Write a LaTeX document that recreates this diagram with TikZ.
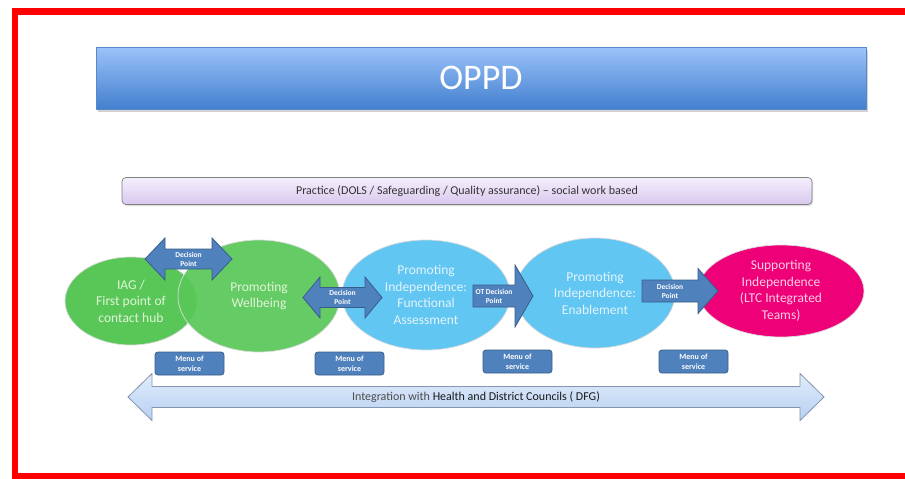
\documentclass[tikz,border=0pt]{standalone}
\usepackage{fontspec}
\setmainfont{Carlito}
\usetikzlibrary{shapes.geometric,shadows}
\definecolor{framered}{RGB}{255,0,0}
\definecolor{oppdtop}{RGB}{156,194,250}
\definecolor{oppdbot}{RGB}{66,128,206}
\definecolor{oppdline}{RGB}{90,136,200}
\definecolor{practop}{RGB}{245,239,252}
\definecolor{pracbot}{RGB}{216,200,238}
\definecolor{grn}{RGB}{88,199,88}
\definecolor{grntxt}{RGB}{224,245,216}
\definecolor{sky}{RGB}{98,198,242}
\definecolor{skytxt}{RGB}{226,244,252}
\definecolor{pnk}{RGB}{238,0,120}
\definecolor{pnktxt}{RGB}{255,206,228}
\definecolor{decfill}{RGB}{79,129,189}
\definecolor{decline}{RGB}{56,93,138}
\definecolor{inttop}{RGB}{224,236,251}
\definecolor{intbot}{RGB}{184,208,242}
\definecolor{intline}{RGB}{130,150,175}
\newcommand\twoarrow[7]{% style, L, R, cy, headhalf, shafthalf, headlen
  \draw[#1] (#2,#4) -- ({#2+#7},{#4-#5}) -- ({#2+#7},{#4-#6}) -- ({#3-#7},{#4-#6})
    -- ({#3-#7},{#4-#5}) -- (#3,#4) -- ({#3-#7},{#4+#5}) -- ({#3-#7},{#4+#6})
    -- ({#2+#7},{#4+#6}) -- ({#2+#7},{#4+#5}) -- cycle;}
\newcommand\onearrow[7]{% style, L, R, cy, headhalf, shafthalf, headlen
  \draw[#1] (#2,{#4-#6}) -- ({#3-#7},{#4-#6}) -- ({#3-#7},{#4-#5}) -- (#3,#4)
    -- ({#3-#7},{#4+#5}) -- ({#3-#7},{#4+#6}) -- (#2,{#4+#6}) -- cycle;}
\begin{document}
\begin{tikzpicture}[x=1pt,y=-1pt,
  bubble/.style={ellipse, inner sep=0pt, align=center, draw=white!72!gray, line width=0.7pt,
    font=\fontsize{13.5}{16.5}\selectfont},
  greenbub/.style={bubble, fill=grn, text=grntxt},
  skybub/.style={bubble, fill=sky, text=skytxt},
  pinkbub/.style={bubble, fill=pnk, text=pnktxt},
  decarrow/.style={fill=decfill, draw=decline, line width=0.8pt},
  intarrow/.style={top color=inttop, bottom color=intbot, draw=intline, line width=0.8pt},
  dectext/.style={font=\fontsize{7.5}{9}\selectfont\bfseries, text=white, align=center, inner sep=0pt},
  menubox/.style={rounded corners=3pt, fill=decfill, draw=decline, line width=0.8pt,
    minimum width=69pt, minimum height=23pt, inner sep=0pt, align=center, text=white,
    font=\fontsize{8}{10}\selectfont\bfseries},
  oppdbox/.style={top color=oppdtop, bottom color=oppdbot, draw=oppdline, line width=0.8pt,
    minimum width=770pt, minimum height=62pt, inner sep=0pt, text=white,
    font=\fontsize{36}{38}\selectfont,
    drop shadow={opacity=0.35, shadow xshift=1.5pt, shadow yshift=-2.5pt}},
  pracbox/.style={top color=practop, bottom color=pracbot, draw=gray, line width=0.7pt,
    rounded corners=4pt, minimum width=690pt, minimum height=27pt, inner sep=0pt,
    text=black!80, font=\fontsize{12}{14}\selectfont,
    drop shadow={opacity=0.25, shadow xshift=1pt, shadow yshift=-1.5pt}},
  inttext/.style={inner sep=0pt, text=black!70, font=\fontsize{12}{14}\selectfont}
]
\useasboundingbox (0,0) rectangle (905,479);
\fill[white] (0,0) rectangle (905,479);
% red frame
\draw[framered, line width=6.5pt] (905,11.5) -- (15,11.5) -- (15,476) -- (905,476);

% title and practice bars
\node[oppdbox] (oppd) at (481,78) {OPPD};
\node[pracbox] (prac) at (467,191) {Practice (DOLS / Safeguarding / Quality assurance) -- social work based};

% ellipses
\node[greenbub, minimum width=132pt, minimum height=88pt] (iag) at (131,301)
  {IAG /\\First point of\\contact hub};
\node[greenbub, fill opacity=0.92, text opacity=1, minimum width=162pt, minimum height=112pt] (well) at (259,296)
  {Promoting\\Wellbeing};
\node[skybub, minimum width=168pt, minimum height=110pt] (func) at (426,295)
  {Promoting\\Independence:\\Functional\\Assessment};
\node[skybub, minimum width=160pt, minimum height=110pt] (enab) at (595,293)
  {Promoting\\Independence:\\Enablement};
\node[pinkbub, minimum width=166pt, minimum height=92pt] (supp) at (781,291)
  {Supporting\\Independence\\(LTC Integrated\\Teams)};

% decision arrows
\twoarrow{decarrow}{145}{232}{259}{21}{10}{20}
\node[dectext] (dp1) at (188.5,259) {Decision\\Point};
\twoarrow{decarrow}{303}{382}{297.5}{20.5}{10}{17}
\node[dectext] (dp2) at (342.5,297.5) {Decision\\Point};
\onearrow{decarrow}{473}{533}{296}{31}{11}{18}
\node[dectext] (dp3) at (494,296) {OT Decision\\Point};
\onearrow{decarrow}{642}{718}{291}{22.5}{11}{20}
\node[dectext] (dp4) at (670,291) {Decision\\Point};

% menu of service boxes
\node[menubox] (m1) at (189.5,363.5) {Menu of\\service};
\node[menubox] (m2) at (349.5,363.5) {Menu of\\service};
\node[menubox] (m3) at (517.5,361.5) {Menu of\\service};
\node[menubox] (m4) at (693.5,361.5) {Menu of\\service};

% integration arrow
\twoarrow{intarrow}{128}{824}{397}{23.5}{10.5}{24}
\node[inttext] (integ) at (476,397) {Integration with {\color{black!90}Health and District Councils ( DFG)}};
\end{tikzpicture}
\end{document}
